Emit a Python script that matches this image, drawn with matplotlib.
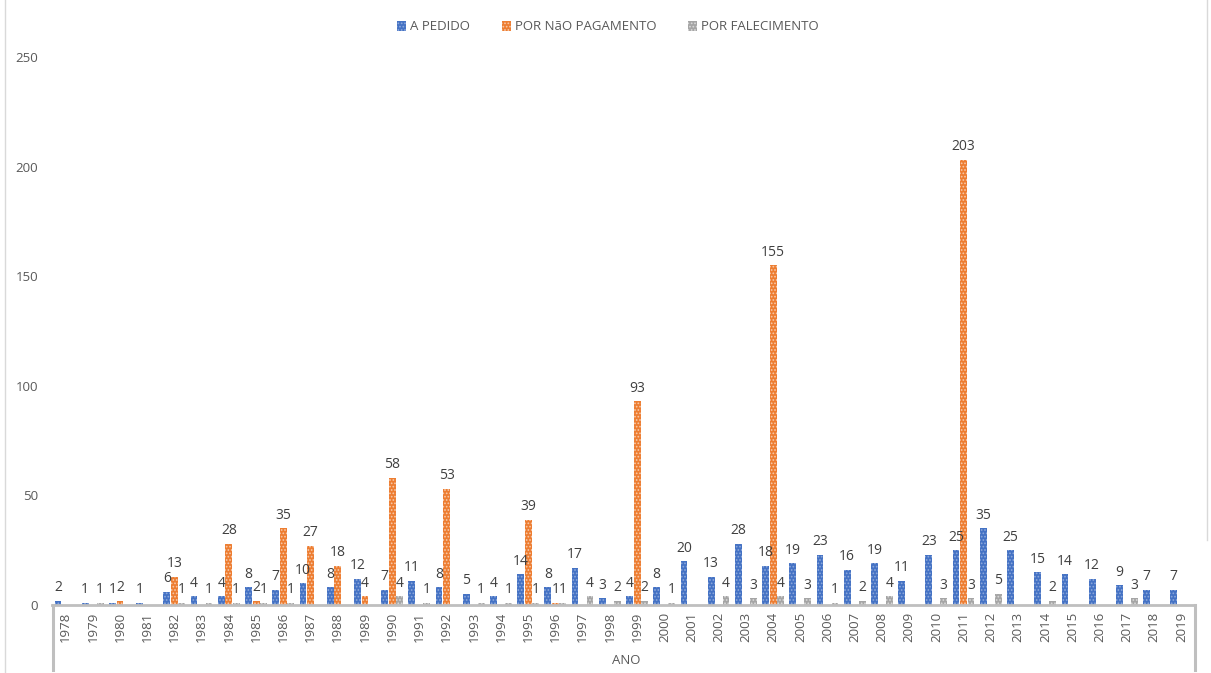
import numpy as np
import matplotlib
matplotlib.use("Agg")
import matplotlib.pyplot as plt
from matplotlib.lines import Line2D

plt.rcParams['font.family'] = ['Open Sans', 'DejaVu Sans']
plt.rcParams['hatch.linewidth'] = 0.8

nan = np.nan
years = [str(y) for y in range(1978, 2020)]
a_pedido = [2, 1, 1, 1, 6, 4, 4, 8, 7, 10, 8, 12, 7, 11, 8, 5, 4, 14, 8, 17, 3,
            4, 8, 20, 13, 28, 18, 19, 23, 16, 19, 11, 23, 25, 35, 25, 15, 14, 12, 9, 7, 7]
nao_pagamento = [nan, nan, 2, nan, 13, nan, 28, 2, 35, 27, 18, 4, 58, nan, 53, nan, nan, 39, 1, nan, nan,
                 93, nan, nan, nan, nan, 155, nan, nan, nan, nan, nan, nan, 203, nan, nan, nan, nan, nan, nan, nan, nan]
falecimento = [nan, 1, nan, nan, 1, 1, 1, 1, 1, nan, nan, nan, 4, 1, nan, 1, 1, 1, 1, 4, 2,
               2, 1, nan, 4, 3, 4, 3, 1, 2, 4, nan, 3, 3, 5, nan, 2, nan, nan, 3, nan, nan]
series_names = ['A PEDIDO', 'POR NãO PAGAMENTO', 'POR FALECIMENTO']

colors = ['#4472C4', '#ED7D31', '#A5A5A5']
hatch_cols = ['#8FAADC', '#F8CBAD', '#DBDBDB']

W, H = 1211, 673
fig = plt.figure(figsize=(W / 100, H / 100), dpi=100)
ax = fig.add_axes([52 / W, (H - 605) / H, (1195 - 52) / W, (605 - 57) / H])

x = np.arange(len(years))
offs = [-0.28, 0.0, 0.27]
bw = 0.25
for vals, off, c, hc, name in zip([a_pedido, nao_pagamento, falecimento], offs, colors, hatch_cols, series_names):
    v = np.array(vals, dtype=float)
    ax.bar(x + off, np.nan_to_num(v), width=bw, color=c, edgecolor=hc,
           hatch='.....', linewidth=0, label=name)
    for xi, vi in zip(x, v):
        if not np.isnan(vi):
            ax.annotate(f'{int(vi)}', (xi + off, vi), xytext=(0, 4), textcoords='offset points',
                        ha='center', va='bottom', fontsize=10, color='#404040')

ax.set_xlim(-0.5, len(years) - 0.5)
ax.set_ylim(0, 250)
ax.set_yticks([0, 50, 100, 150, 200, 250])
ax.tick_params(axis='y', length=0, labelsize=9.5, labelcolor='#595959', pad=10)
ax.set_xticks(x)
ax.set_xticklabels(years, rotation=90, fontsize=9.5, color='#595959')
ax.tick_params(axis='x', length=0, pad=5)
for s in ['top', 'right', 'left']:
    ax.spines[s].set_visible(False)
ax.spines['bottom'].set_color('#BFBFBF')
ax.spines['bottom'].set_linewidth(2)

# multi-level category box
for px in [53, 1195]:
    fig.add_artist(Line2D([px / W, px / W], [(H - 605) / H, (H - 670) / H], color='#BFBFBF', lw=2.2))
fig.text(626 / W, (H - 660) / H, 'ANO', ha='center', va='center', fontsize=9.5, color='#595959')

# chart border
fig.add_artist(Line2D([5 / W, 5 / W], [0, 1], color='#D9D9D9', lw=1))
fig.add_artist(Line2D([1207 / W, 1207 / W], [(H - 540) / H, 1], color='#D9D9D9', lw=1))

fig.legend(loc='center', bbox_to_anchor=(608 / W, (H - 27) / H), ncol=3, frameon=False,
           fontsize=9.5, handlelength=0.7, handleheight=0.7, handletextpad=0.3,
           columnspacing=2.4, labelcolor='#595959')

fig.savefig('out.png', dpi=100)
